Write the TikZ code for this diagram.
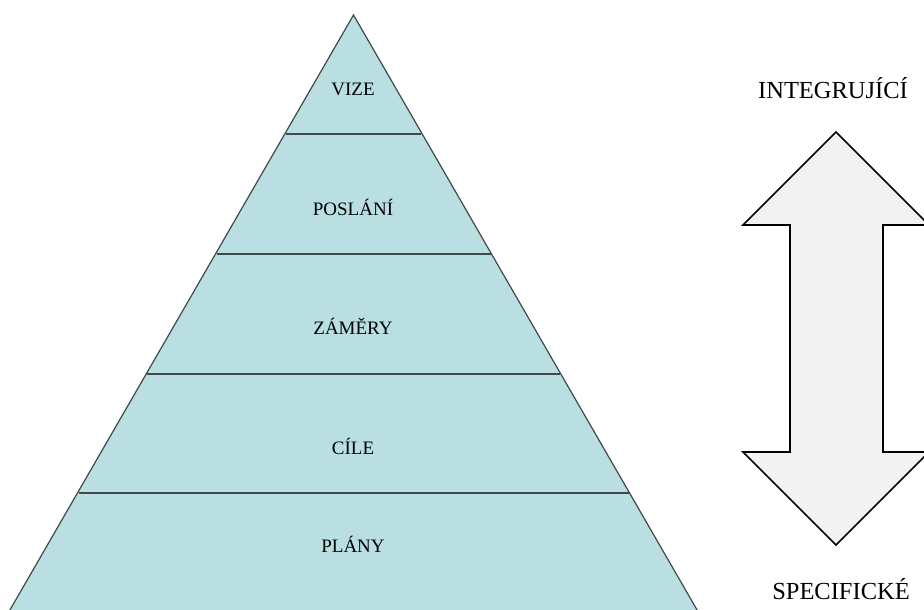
\documentclass[tikz,border=0pt]{standalone}
\usepackage{fontspec}
\setmainfont{Liberation Serif}
\definecolor{pyrfill}{HTML}{B9DFE3}
\definecolor{pyrline}{HTML}{404848}
\definecolor{arrfill}{HTML}{F2F2F2}
\tikzset{
  band/.style={draw=pyrline, line width=1.3pt},
  lvl/.style={font=\fontsize{19}{21}\selectfont, inner sep=0pt},
  side/.style={font=\fontsize{24.5}{27}\selectfont, inner sep=0pt},
  bigarrow/.style={draw=black, line width=1.6pt, fill=arrfill, line join=miter}
}
\begin{document}
\begin{tikzpicture}[x=1pt, y=-1pt]
  \useasboundingbox (0,0) rectangle (924,610);
  \begin{scope}
    \clip (0,0) rectangle (924,610);
    % pyramid body
    \fill[pyrfill, draw=pyrline, line width=1.2pt] (353.5,15) -- (700,615) -- (7,615) -- cycle;
    % level dividers
    \draw[band] (285.8,134) -- (421.2,134);
    \draw[band] (216.5,254) -- (490.5,254);
    \draw[band] (147.2,374) -- (559.8,374);
    \draw[band] (78.5,493) -- (628.5,493);
    % double-headed arrow
    \draw[bigarrow] (836,132) -- (929,225) -- (883,225) -- (883,452) -- (929,452)
      -- (836,545) -- (743,452) -- (790,452) -- (790,225) -- (743,225) -- cycle;
  \end{scope}
  \node[lvl] (vize)    at (353,89)  {VIZE};
  \node[lvl] (poslani) at (353,207) {POSLÁNÍ};
  \node[lvl] (zamery)  at (353,326) {ZÁMĚRY};
  \node[lvl] (cile)    at (353,446) {CÍLE};
  \node[lvl] (plany)   at (353,544) {PLÁNY};
  \node[side] (top)    at (833,88)  {INTEGRUJÍCÍ};
  \node[side] (bottom) at (841,589) {SPECIFICKÉ};
\end{tikzpicture}
\end{document}
